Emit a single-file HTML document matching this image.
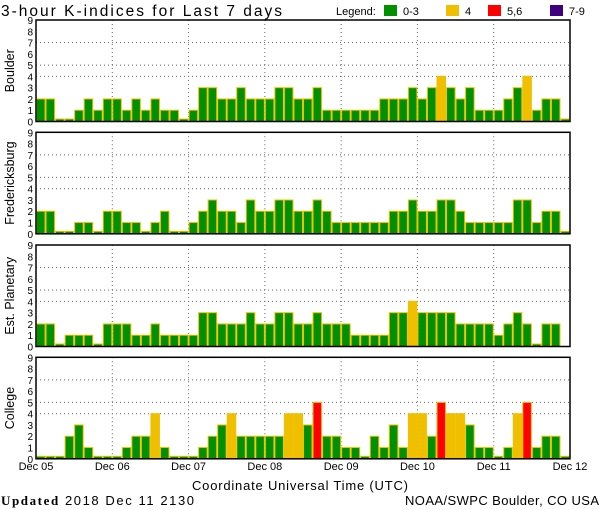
<!DOCTYPE html>
<html><head><meta charset="utf-8"><style>
html,body{margin:0;padding:0;background:#fff;}
svg{display:block;font-family:"Liberation Sans",sans-serif;}
</style></head><body>
<svg id="chart" width="600" height="510" viewBox="0 0 600 510">
<text x="1" y="16" font-size="15.5" fill="#000" textLength="281" lengthAdjust="spacing">3-hour K-indices for Last 7 days</text>
<g font-size="11">
<text x="336" y="15">Legend:</text>
<rect x="384" y="5" width="13" height="11" fill="#009000"/>
<text x="403" y="15">0-3</text>
<rect x="446" y="5" width="13" height="11" fill="#f0c000"/>
<text x="465" y="15">4</text>
<rect x="488" y="5" width="13" height="11" fill="#ff0000"/>
<text x="507" y="15">5,6</text>
<rect x="550" y="5" width="13" height="11" fill="#400080"/>
<text x="569" y="15">7-9</text>
</g>
<g id="panels"></g>
<text x="192" y="490" font-size="13" textLength="216" lengthAdjust="spacing">Coordinate Universal Time (UTC)</text>
<text x="1" y="505" font-size="13" textLength="193" lengthAdjust="spacing"><tspan font-family="Liberation Serif" font-weight="bold">Updated</tspan> 2018 Dec 11 2130</text>
<text x="405" y="505" font-size="13" textLength="194" lengthAdjust="spacing">NOAA/SWPC Boulder, CO USA</text>
</svg>
<script>
const stations = ["Boulder","Fredericksburg","Est. Planetary","College"];
const dayLabels = ["Dec 05","Dec 06","Dec 07","Dec 08","Dec 09","Dec 10","Dec 11","Dec 12"];
const yTicks = [0,1,2,3,4,5,6,7,8,9];
const boulder = [2,2,0,0,1,2,1,2,2,1,2,1,2,1,1,0, 1,3,3,2,2,3,2,2, 2,3,3,2,2,3,1,1, 1,1,1,1,2,2,2,3, 2,3,4,3,2,3,1,1, 1,2,3,4,1,2,2,0];
const fredericksburg = [2,2,0,0,1,1,0,2,2,1,1,0,1,2,0,0, 1,2,3,2,2,1,3,2, 2,3,3,2,2,3,2,1, 1,1,1,1,1,2,2,3, 2,2,3,3,2,1,1,1, 1,1,3,3,1,2,2,0];
const planetary = [2,2,0,1,1,1,0,2,2,2,1,1,2,1,1,1, 1,3,3,2,2,2,3,2, 2,3,3,2,2,3,2,2, 2,1,1,1,1,3,3,4, 3,3,3,3,2,2,2,2, 1,2,3,2,0,2,2,null];
const college = [0,0,0,2,3,1,0,0,0,1,2,2,4,1,0,0, 0,1,2,3,4,2,2,2, 2,2,4,4,3,5,2,2, 1,1,0,2,1,3,1,4, 4,2,5,4,4,3,1,1, 0,1,4,5,1,2,2,0];
const series = [boulder,fredericksburg,planetary,college];

const NS="http://www.w3.org/2000/svg";
const X0=36, X1=570, PH=101.5, tops=[20,132.3,245,357.3], NB=56;
const xScale = i => X0 + (X1-X0)*i/NB;
const color = v => v>=7?"#400080":v>=5?"#ff0000":v>=4?"#f0c000":"#009000";
function mk(tag, attrs, parent){const e=document.createElementNS(NS,tag);for(const k in attrs)e.setAttribute(k,attrs[k]);parent.appendChild(e);return e;}
const root=document.getElementById("panels");
series.forEach((data,p)=>{
  const top=tops[p], yScale=v=>top+PH-PH*v/9;
  const g=mk("g",{},root);
  
  
  [4,5,7].forEach(v=>{const l=mk("line",{x1:X0,x2:X1,y1:yScale(v),y2:yScale(v),stroke:"#666","stroke-dasharray":"1,3","stroke-width":1},g);
    
    });
  for(let d=1;d<7;d++){const x=xScale(d*8);const l=mk("line",{x1:x,x2:x,y1:top,y2:top+PH,stroke:"#666","stroke-dasharray":"1,3","stroke-width":1},g);
    
    }
  data.forEach((v,i)=>{ if(v===null) return;
    const h=v===0?0.22:v; const y=yScale(h);
    const r=mk("rect",{x:xScale(i)+0.5,y:y,width:xScale(i+1)-xScale(i)-1,height:top+PH-y,fill:color(v),stroke:"#f0c000","stroke-width":1},g);
    
    });
  const f=mk("rect",{x:X0,y:top,width:X1-X0,height:PH,fill:"none",stroke:"#000","stroke-width":1.5},g);
  
  
  yTicks.forEach(v=>{const t=mk("text",{x:33,y:yScale(v)+4,"font-size":10,"text-anchor":"end"},g);t.textContent=v;
    
    });
  const cy=top+PH/2;
  const lab=mk("text",{x:14,y:cy,"font-size":12.5,"text-anchor":"middle",transform:"rotate(-90 14 "+cy+")"},g);
  lab.textContent=stations[p];
  
  
});
dayLabels.forEach((s,d)=>{const t=mk("text",{x:xScale(d*8),y:470,"font-size":11,"text-anchor":"middle"},root);t.textContent=s;
  
  });
</script>
</body></html>
